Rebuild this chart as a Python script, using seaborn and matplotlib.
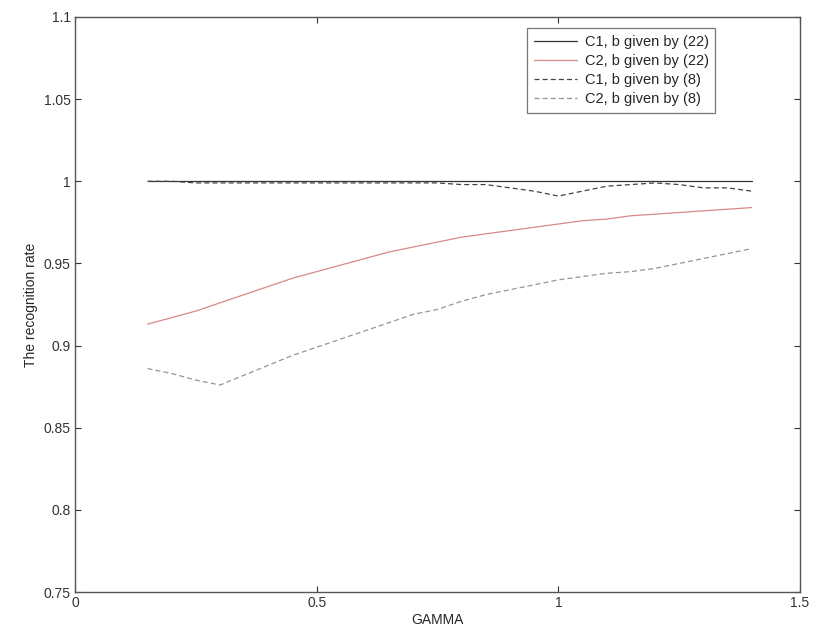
import numpy as np
import pandas as pd
import matplotlib
matplotlib.use("Agg")
import matplotlib.pyplot as plt
import seaborn as sns

gamma = [0.15, 0.2, 0.25, 0.3, 0.35, 0.4, 0.45, 0.5, 0.55, 0.6, 0.65, 0.7, 0.75,
         0.8, 0.85, 0.9, 0.95, 1.0, 1.05, 1.1, 1.15, 1.2, 1.25, 1.3, 1.35, 1.4]

c1_22 = [1.0, 1.0, 1.0, 1.0, 1.0, 1.0, 1.0, 1.0, 1.0, 1.0, 1.0, 1.0, 1.0,
         1.0, 1.0, 1.0, 1.0, 1.0, 1.0, 1.0, 1.0, 1.0, 1.0, 1.0, 1.0, 1.0]
c2_22 = [0.913, 0.917, 0.921, 0.926, 0.931, 0.936, 0.941, 0.945, 0.949, 0.953, 0.957, 0.960, 0.963,
         0.966, 0.968, 0.970, 0.972, 0.974, 0.976, 0.977, 0.979, 0.980, 0.981, 0.982, 0.983, 0.984]
c1_8 = [1.0, 1.0, 0.999, 0.999, 0.999, 0.999, 0.999, 0.999, 0.999, 0.999, 0.999, 0.999, 0.999,
        0.998, 0.998, 0.996, 0.994, 0.991, 0.994, 0.997, 0.998, 0.999, 0.998, 0.996, 0.996, 0.994]
c2_8 = [0.886, 0.883, 0.879, 0.876, 0.882, 0.888, 0.894, 0.899, 0.904, 0.909, 0.914, 0.919, 0.922,
        0.927, 0.931, 0.934, 0.937, 0.940, 0.942, 0.944, 0.945, 0.947, 0.950, 0.953, 0.956, 0.959]

labels = ["C1, b given by (22)", "C2, b given by (22)", "C1, b given by (8)", "C2, b given by (8)"]

df = pd.concat([
    pd.DataFrame({"GAMMA": gamma, "rate": c1_22, "series": labels[0]}),
    pd.DataFrame({"GAMMA": gamma, "rate": c2_22, "series": labels[1]}),
    pd.DataFrame({"GAMMA": gamma, "rate": c1_8, "series": labels[2]}),
    pd.DataFrame({"GAMMA": gamma, "rate": c2_8, "series": labels[3]}),
])

sns.set_style("white")
plt.rcParams['font.family'] = ['Liberation Sans', 'DejaVu Sans']

fig = plt.figure(figsize=(8.16, 6.39), dpi=100)
ax = fig.add_axes([75 / 816, 1 - 592 / 639, 725 / 816, 575 / 639])

palette = {labels[0]: "#333333", labels[1]: "#d88888", labels[2]: "#444444", labels[3]: "#959595"}
dashes = {labels[0]: "", labels[1]: "", labels[2]: (4, 2.5), labels[3]: (4, 2.5)}
sns.lineplot(data=df, x="GAMMA", y="rate", hue="series", style="series",
             palette=palette, dashes=dashes, linewidth=0.9, ax=ax)

ax.set_xlim(0, 1.5)
ax.set_ylim(0.75, 1.1)
ax.set_xticks([0, 0.5, 1, 1.5])
ax.set_xticklabels(["0", "0.5", "1", "1.5"])
ax.set_yticks([0.75, 0.8, 0.85, 0.9, 0.95, 1.0, 1.05, 1.1])
ax.set_yticklabels(["0.75", "0.8", "0.85", "0.9", "0.95", "1", "1.05", "1.1"])
ax.tick_params(direction="in", length=4, labelsize=10, colors="#333333",
               top=True, right=True, bottom=True, left=True, pad=3)
ax.set_xlabel("GAMMA", fontsize=10, labelpad=2)
ax.set_ylabel("The recognition rate", fontsize=10, labelpad=4)
for s in ax.spines.values():
    s.set_color("#555555")
    s.set_linewidth(1.0)

leg = ax.legend(loc="upper right", bbox_to_anchor=(0.893, 0.993), fontsize=10.5,
                handlelength=3.0, frameon=True, fancybox=False, borderpad=0.45,
                labelspacing=0.35, handletextpad=0.5)
leg.get_frame().set_edgecolor("#555555")
leg.get_frame().set_linewidth(0.9)

fig.savefig("out.png", dpi=100)
